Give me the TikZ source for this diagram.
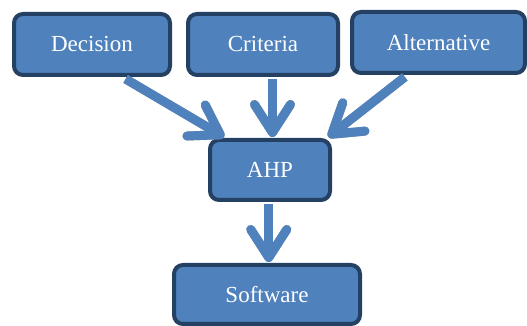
\documentclass[tikz,border=0pt]{standalone}
\usepackage{fontspec}
\setmainfont{Liberation Serif}
\usetikzlibrary{arrows.meta,calc}
\definecolor{boxblue}{RGB}{79,129,189}
\definecolor{boxedge}{RGB}{36,64,98}
\definecolor{shadegray}{RGB}{165,165,165}
\begin{document}
\begin{tikzpicture}[x=1pt,y=1pt,
  box/.style={draw=boxedge, line width=4pt, fill=boxblue, rounded corners=9pt,
    text=white, font=\fontsize{23}{26}\selectfont, inner sep=0pt},
  flow/.style={draw=boxblue, line width=9pt,
    -{Straight Barb[length=28pt,width=36pt,round]}},
  flowshadow/.style={flow, draw=shadegray, shift={(-1pt,-3pt)}}
]
\useasboundingbox (0,0) rectangle (527,326);
\node[box, minimum width=156pt, minimum height=61pt] (dec) at (92,281.5) {Decision};
\node[box, minimum width=150pt, minimum height=61pt] (cri) at (263,281.5) {Criteria};
\node[box, minimum width=173pt, minimum height=61pt] (alt) at (438.5,283.5) {Alternative};
\node[box, minimum width=120pt, minimum height=60pt] (ahp) at (270,156) {AHP};
\node[box, minimum width=186pt, minimum height=59pt] (sw) at (267,31.5) {Software};
\coordinate (d1) at ($(dec.south west)!0.71!(dec.south east)$);
\coordinate (a1) at ($(alt.south west)!0.31!(alt.south east)$);
\coordinate (d2) at ($(ahp.north west)!0.13!(ahp.north east)$);
\coordinate (c2) at ($(ahp.north west)!0.52!(ahp.north east)$);
\coordinate (c1) at (c2 |- cri.south);
\coordinate (a2) at ($(ahp.north west)!0.97!(ahp.north east)$);
\coordinate (h1) at ($(ahp.south west)!0.49!(ahp.south east)$);
\coordinate (s2) at (h1 |- sw.north);
\foreach \s/\e in {d1/d2,c1/c2,a1/a2,h1/s2}{
  \draw[flowshadow] ([yshift=-2pt]\s) -- ([yshift=1pt]\e);
  \draw[flow] ([yshift=-2pt]\s) -- ([yshift=1pt]\e);
}
\end{tikzpicture}
\end{document}
